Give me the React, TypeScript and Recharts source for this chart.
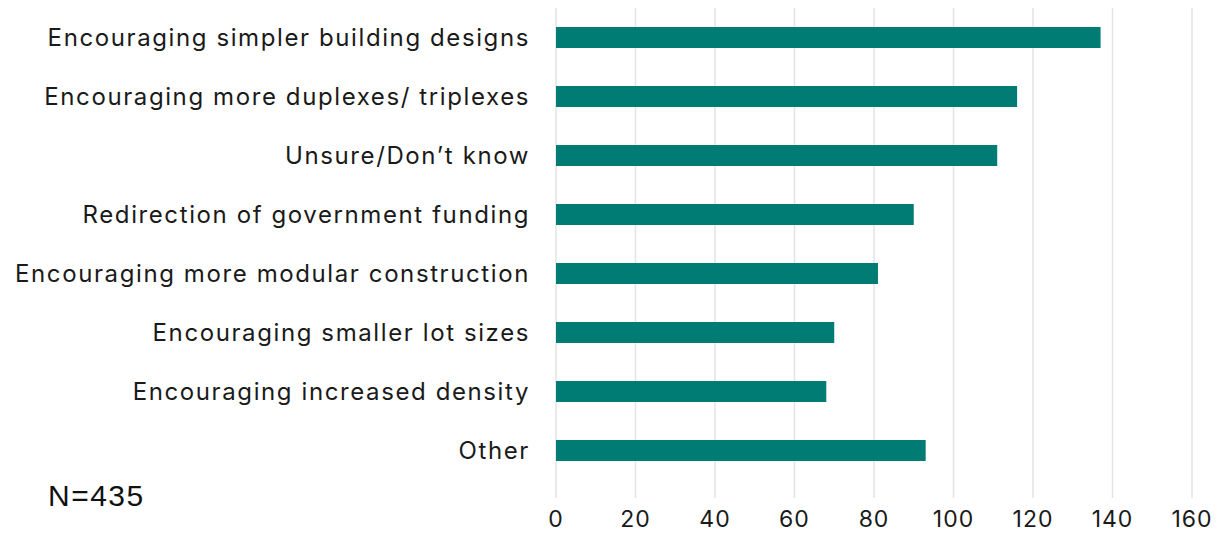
import { BarChart, Bar, XAxis, YAxis, CartesianGrid } from 'recharts';

const CATEGORIES = [
  'Encouraging simpler building designs',
  'Encouraging more duplexes/ triplexes',
  'Unsure/Don’t know',
  'Redirection of government funding',
  'Encouraging more modular construction',
  'Encouraging smaller lot sizes',
  'Encouraging increased density',
  'Other',
];
const COUNTS = [137, 116, 111, 90, 81, 70, 68, 93];
const X_TICKS = [0, 20, 40, 60, 80, 100, 120, 140, 160];

const data = CATEGORIES.map((name, i) => ({ name, value: COUNTS[i] }));

const FONT = 'Inter, "Noto Sans", sans-serif';

export default function App() {
  return (
    <div style={{ position: 'absolute', left: 0, top: 0, width: 1220, height: 533, background: '#fff' }}>
      <BarChart
        width={1220}
        height={533}
        data={data}
        layout="vertical"
        margin={{ top: 8, right: 28, left: 0, bottom: 0 }}
        barCategoryGap={19}
      >
        <CartesianGrid horizontal={false} stroke="#e1e3e6" strokeWidth={1.5} />
        <XAxis
          type="number"
          domain={[0, 160]}
          ticks={X_TICKS}
          height={35}
          axisLine={false}
          tickLine={false}
          tickMargin={7}
          tick={{ fill: '#1a1a1a', fontSize: 23, fontFamily: FONT, letterSpacing: 1 }}
        />
        <YAxis
          type="category"
          dataKey="name"
          width={556}
          axisLine={false}
          tickLine={false}
          tickMargin={20}
          padding={{ top: 0, bottom: 18 }}
          tick={{ fill: '#1a1a1a', fontSize: 24, fontFamily: FONT, letterSpacing: 1.6 }}
          interval={0}
        />
        <Bar dataKey="value" fill="#007c74" barSize={21} isAnimationActive={false} />
      </BarChart>
      <div
        style={{
          position: 'absolute',
          left: 48,
          top: 481,
          fontSize: 30,
          lineHeight: '30px',
          letterSpacing: 1.5,
          fontFamily: '"Liberation Sans", Arial, sans-serif',
          color: '#111',
        }}
      >
        N=435
      </div>
    </div>
  );
}
